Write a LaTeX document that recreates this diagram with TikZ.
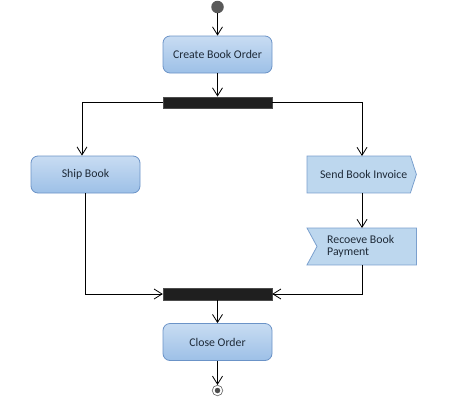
\documentclass[tikz,border=0pt]{standalone}
\usepackage{fontspec}
\setmainfont{Carlito}
\usetikzlibrary{arrows.meta}
\definecolor{boxtop}{HTML}{C8DCF2}
\definecolor{boxbot}{HTML}{9DC0E7}
\definecolor{boxline}{HTML}{6B93C7}
\definecolor{sigfill}{HTML}{BDD7EE}
\definecolor{sigline}{HTML}{7BA0CE}
\definecolor{txt}{HTML}{1E2A38}
\tikzset{
  actbox/.style={draw=boxline, line width=0.8pt, rounded corners=7pt, top color=boxtop, bottom color=boxbot,
    minimum width=109pt, minimum height=37pt, inner sep=0pt, font=\fontsize{11.8}{13}\selectfont, text=txt},
  barbox/.style={draw=black!70, fill=black!88, minimum width=109pt, minimum height=11.5pt, inner sep=0pt},
  sigbox/.style={minimum height=36.5pt, inner sep=0pt, font=\fontsize{11.8}{13}\selectfont, text=txt},
  sigshape/.style={draw=sigline, fill=sigfill, line width=0.8pt},
  flow/.style={draw=black, line width=0.8pt, -{Straight Barb[length=8pt,width=10pt,line width=0.8pt]}},
}
\begin{document}
\begin{tikzpicture}[x=1pt,y=-1pt]
\useasboundingbox (0,0) rectangle (463,405);
\node[circle, fill=black!65, minimum size=12.5pt, inner sep=0pt] (start) at (217.5,7) {};
\node[actbox] (create) at (217.5,54.5) {Create Book Order};
\node[barbox] (fork) at (217.5,102.5) {};
\node[actbox] (ship) at (85.5,174.5) {Ship Book};
\node[sigbox, minimum width=103pt, anchor=north west] (send) at (307,156) {};
\node[sigbox, minimum width=109pt, anchor=north west] (recv) at (307,228) {};
\node[barbox] (join) at (217.5,294) {};
\node[actbox] (close) at (217.5,342) {Close Order};
\node[circle, draw=black!55, line width=0.7pt, minimum size=10.5pt, inner sep=0pt] (end) at (217.5,390.5) {};
\node[circle, fill=black!70, minimum size=5.5pt, inner sep=0pt] (enddot) at (end.center) {};
% signal shapes
\path[sigshape] (send.north west) -- (send.north east) -- ([xshift=6pt]send.east) -- (send.south east) -- (send.south west) -- cycle;
\node[sigbox, anchor=center] (sendtxt) at ([xshift=5pt]send.center) {Send Book Invoice};
\path[sigshape] (recv.north west) -- (recv.north east) -- (recv.south east) -- (recv.south west) -- ([xshift=10pt]recv.west) -- cycle;
\node[sigbox, align=left, anchor=west] (recvtxt) at ([xshift=20pt]recv.west) {Recoeve Book\\[-1.5pt]Payment};
% connectors
\draw[flow] (start) -- (create);
\draw[flow] (create) -- (fork);
\draw[flow] (fork.west) -| ([xshift=-3.5pt]ship.north);
\draw[flow] (fork.east) -| ([xshift=55pt]send.north west);
\draw[flow] ([xshift=55pt]send.south west) -- ([xshift=55pt]recv.north west);
\draw[flow] (ship.south) |- (join.west);
\draw[flow] ([xshift=55pt]recv.south west) |- (join.east);
\draw[flow] (join) -- (close);
\draw[flow] (close) -- (end);
\end{tikzpicture}
\end{document}
